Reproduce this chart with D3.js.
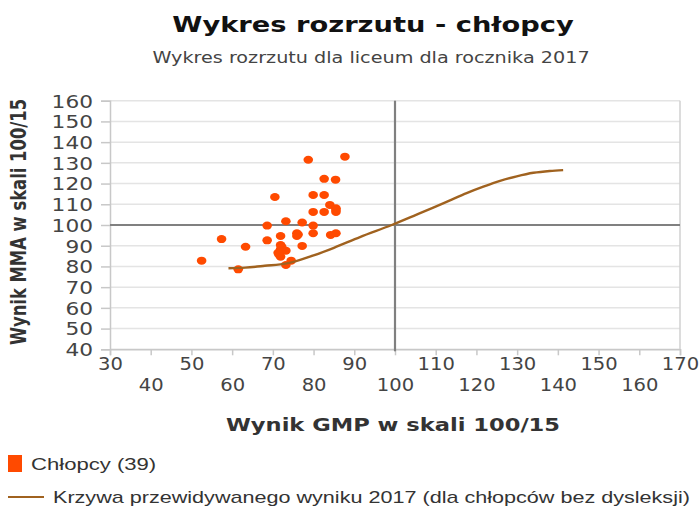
<!DOCTYPE html>
<html><head><meta charset="utf-8">
<script src="https://cdn.jsdelivr.net/npm/d3@7"></script>
<style>body{margin:0;background:#fff;overflow:hidden}svg{display:block}</style>
</head><body>
<svg id="c" width="699" height="507"></svg>
<script>
const pointsX = [78.7,87.7,82.6,85.4,70.5,79.9,82.6,84.0,85.5,79.9,82.6,85.5,73.2,77.2,68.6,79.9,79.9,75.9,75.9,71.9,84.2,85.5,57.4,68.6,63.3,77.2,71.9,71.9,73.2,71.3,71.9,74.5,73.2,52.5,61.5,85.5,72.2,76.2,71.5];
const pointsY = [131.5,133.0,122.3,121.9,113.5,114.5,114.5,109.7,108.1,106.3,106.3,106.3,101.8,101.2,99.7,99.7,96.0,96.0,94.7,94.7,95.2,96.0,93.2,92.6,89.5,89.9,90.3,88.3,87.6,86.6,84.7,82.8,80.7,82.8,78.6,107.2,89.4,95.4,85.8];
const curveX = [59.1,63.2,68,73.4,76.7,80,85,91.4,99.2,105.3,109.4,113.5,117.6,121.7,125.8,129.9,134,138,141.3];
const curveY = [79.1,79.4,80.3,81.5,83.2,85.3,89,94.2,100,105,108.4,111.9,115.4,118.5,121.3,123.5,125.2,126.1,126.5];
const xTicks = [30,40,50,60,70,80,90,100,110,120,130,140,150,160,170];
const yTicks = [40,50,60,70,80,90,100,110,120,130,140,150,160];
const title = "Wykres rozrzutu - chłopcy";
const subtitle = "Wykres rozrzutu dla liceum dla rocznika 2017";
const xTitle = "Wynik GMP w skali 100/15";
const yTitle = "Wynik MMA w skali 100/15";
const legendPoints = "Chłopcy (39)";
const legendLine = "Krzywa przewidywanego wyniku 2017 (dla chłopców bez dysleksji)";

const svg = d3.select("#c");
const L=110, R=680, T=100.7, B=349.3;
const SX = 1.28;
const x = d3.scaleLinear().domain([30,170]).range([L,R]);
const y = d3.scaleLinear().domain([40,160]).range([B,T]);
const font = "Verdana, 'DejaVu Sans', sans-serif";
const lfont = "'Liberation Sans', Arial, sans-serif";

function stext(px,py,txt,opts){
  const t = svg.append("text").attr("transform",`translate(${px},${py}) scale(${opts.sx||SX},1)${opts.rot?" rotate(-90)":""}`)
    .attr("text-anchor",opts.anchor||"middle").attr("font-family",opts.family||font)
    .attr("font-size",opts.size).attr("fill",opts.fill||"#333").text(txt);
  if(opts.bold) t.attr("font-weight","bold");
  return t;
}

stext(373,32,title,{size:21.5,bold:true,fill:"#111",sx:1.27});
stext(371,63,subtitle,{size:15,fill:"#444",sx:1.28});

// grid
svg.append("g").selectAll("line").data(yTicks).join("line")
  .attr("x1",L).attr("x2",R).attr("y1",d=>y(d)).attr("y2",d=>y(d))
  .attr("stroke","#e4e4e4").attr("stroke-width",1.5);
svg.append("line").attr("x1",R).attr("x2",R).attr("y1",T).attr("y2",B).attr("stroke","#d0d0d0").attr("stroke-width",1.5);

// axes
const yAxis = svg.append("g").attr("transform",`translate(${L},0)`)
  .call(d3.axisLeft(y).tickValues(yTicks).tickSize(9).tickPadding(0));
const xAxis = svg.append("g").attr("transform",`translate(0,${B})`)
  .call(d3.axisBottom(x).tickValues(xTicks).tickSize(6).tickPadding(0));
[yAxis,xAxis].forEach(a=>{
  a.select(".domain").attr("stroke","#c8c8c8").attr("stroke-width",1.5);
  a.selectAll(".tick line").attr("stroke","#c8c8c8").attr("stroke-width",1.5);
  a.selectAll("text").attr("font-family",font).attr("font-size",17.5).attr("fill","#444");
});
yAxis.selectAll(".tick text").attr("x",0).attr("dy","0.36em").attr("transform",`translate(-17,0) scale(1.24,1)`);
xAxis.selectAll(".tick text").attr("y",0).attr("font-size",17)
  .attr("dy",(d,i)=> i%2===0 ? "1.22em" : "2.45em").attr("transform",`scale(1.15,1)`);

// reference lines
svg.append("line").attr("x1",x(100)).attr("x2",x(100)).attr("y1",T).attr("y2",B+2).attr("stroke","#808080").attr("stroke-width",2.2);
svg.append("line").attr("x1",L).attr("x2",R).attr("y1",y(100)).attr("y2",y(100)).attr("stroke","#808080").attr("stroke-width",2.2);

// points
const pts = pointsX.map((v,i)=>({x:v,y:pointsY[i]}));
svg.append("g").selectAll("ellipse").data(pts).join("ellipse")
  .attr("cx",d=>x(d.x)).attr("cy",d=>y(d.y)).attr("rx",4.8).attr("ry",4.0).attr("fill","#ff4a00");

// curve
const cdata = curveX.map((v,i)=>[v,curveY[i]]);
svg.append("path").datum(cdata)
  .attr("d",d3.line().x(d=>x(d[0])).y(d=>y(d[1])).curve(d3.curveMonotoneX))
  .attr("fill","none").attr("stroke","#a0621f").attr("stroke-width",2.4);

// axis titles
stext(393,431,xTitle,{size:17.5,bold:true,sx:1.29});
stext(26,222,yTitle,{size:16.4,bold:true,rot:true,sx:1.28});

// legend
svg.append("rect").attr("x",8).attr("y",455).attr("width",14).attr("height",17).attr("fill","#ff4a00");
stext(31,470,legendPoints,{size:17,family:lfont,anchor:"start",sx:1.3});
svg.append("line").attr("x1",8).attr("x2",44).attr("y1",497).attr("y2",497).attr("stroke","#a0621f").attr("stroke-width",2);
stext(53,503,legendLine,{size:17,family:lfont,anchor:"start",sx:1.27});
</script>
</body></html>
